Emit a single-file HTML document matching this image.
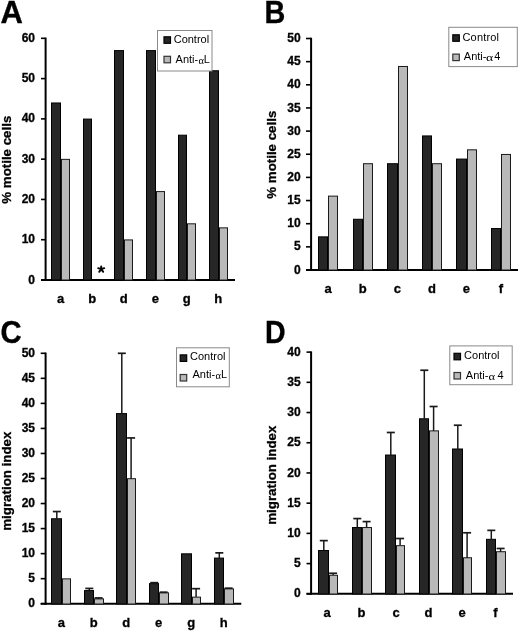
<!DOCTYPE html>
<html><head><meta charset="utf-8"><style>
html,body{margin:0;padding:0;background:#fff;}
body{width:520px;height:632px;overflow:hidden;}
svg{display:block;will-change:transform;}
text{font-family:"Liberation Sans", sans-serif;fill:#000;}
.tl{font-size:12px;font-weight:bold;stroke:#000;stroke-width:0.3px;}
.cl{font-size:13px;font-weight:bold;stroke:#000;stroke-width:0.3px;}
.yt{font-size:13.3px;font-weight:bold;stroke:#000;stroke-width:0.3px;}
.pl{font-size:31px;font-weight:bold;stroke:#000;stroke-width:0.35px;}
.lg{font-size:11px;}
.alp{font-family:"Liberation Serif", serif;}
.ast{font-size:17px;font-weight:bold;}
</style></head><body>
<svg width="520" height="632" viewBox="0 0 520 632">
<rect width="520" height="632" fill="#fff"/>
<line x1="45.6" y1="37.57" x2="45.6" y2="281" stroke="#000" stroke-width="2"/>
<line x1="41" y1="280" x2="45.6" y2="280" stroke="#000" stroke-width="1.6"/>
<text x="35" y="283.6" text-anchor="end" class="tl">0</text>
<line x1="41" y1="239.72" x2="45.6" y2="239.72" stroke="#000" stroke-width="1.6"/>
<text x="35" y="243.32" text-anchor="end" class="tl">10</text>
<line x1="41" y1="199.44" x2="45.6" y2="199.44" stroke="#000" stroke-width="1.6"/>
<text x="35" y="203.04" text-anchor="end" class="tl">20</text>
<line x1="41" y1="159.16" x2="45.6" y2="159.16" stroke="#000" stroke-width="1.6"/>
<text x="35" y="162.76" text-anchor="end" class="tl">30</text>
<line x1="41" y1="118.88" x2="45.6" y2="118.88" stroke="#000" stroke-width="1.6"/>
<text x="35" y="122.48" text-anchor="end" class="tl">40</text>
<line x1="41" y1="78.6" x2="45.6" y2="78.6" stroke="#000" stroke-width="1.6"/>
<text x="35" y="82.2" text-anchor="end" class="tl">50</text>
<line x1="41" y1="38.32" x2="45.6" y2="38.32" stroke="#000" stroke-width="1.6"/>
<text x="35" y="41.92" text-anchor="end" class="tl">60</text>
<line x1="41" y1="280" x2="235" y2="280" stroke="#000" stroke-width="2"/>
<rect x="51.5" y="102.97" width="9" height="177.03" fill="#262626" stroke="#000" stroke-width="1"/>
<rect x="61.5" y="159.36" width="8" height="120.64" fill="#b9b9b9" stroke="#1a1a1a" stroke-width="1"/>
<text x="60.6" y="303.3" text-anchor="middle" class="cl">a</text>
<rect x="83.5" y="119.08" width="8" height="160.92" fill="#262626" stroke="#000" stroke-width="1"/>
<text x="92.15" y="303.3" text-anchor="middle" class="cl">b</text>
<rect x="114.5" y="50.6" width="9" height="229.4" fill="#262626" stroke="#000" stroke-width="1"/>
<rect x="124.5" y="239.92" width="8" height="40.08" fill="#b9b9b9" stroke="#1a1a1a" stroke-width="1"/>
<text x="123.7" y="303.3" text-anchor="middle" class="cl">d</text>
<rect x="146.5" y="50.6" width="9" height="229.4" fill="#262626" stroke="#000" stroke-width="1"/>
<rect x="156.5" y="191.58" width="8" height="88.42" fill="#b9b9b9" stroke="#1a1a1a" stroke-width="1"/>
<text x="155.25" y="303.3" text-anchor="middle" class="cl">e</text>
<rect x="178.5" y="135.19" width="8" height="144.81" fill="#262626" stroke="#000" stroke-width="1"/>
<rect x="187.5" y="223.81" width="8" height="56.19" fill="#b9b9b9" stroke="#1a1a1a" stroke-width="1"/>
<text x="186.8" y="303.3" text-anchor="middle" class="cl">g</text>
<rect x="209.5" y="70.74" width="9" height="209.26" fill="#262626" stroke="#000" stroke-width="1"/>
<rect x="219.5" y="227.84" width="8" height="52.16" fill="#b9b9b9" stroke="#1a1a1a" stroke-width="1"/>
<text x="218.35" y="303.3" text-anchor="middle" class="cl">h</text>
<text transform="translate(10.7,159.7) rotate(-90)" text-anchor="middle" class="yt">% motile cells</text>
<text transform="translate(0.4,22.9) scale(1,1)" class="pl" style="font-size:31px">A</text>
<rect x="157.5" y="30.5" width="54.5" height="40.5" fill="#fff" stroke="#8a8a8a" stroke-width="1"/>
<rect x="164" y="36.8" width="6.5" height="6.5" fill="#262626" stroke="#000" stroke-width="1.2"/>
<rect x="164" y="56.3" width="6.5" height="6.5" fill="#b9b9b9" stroke="#333" stroke-width="1.2"/>
<text x="173.7" y="42.8" class="lg" style="letter-spacing:0px">Control</text>
<text x="175.6" y="63" class="lg">Anti-</text>
<text transform="translate(198.6,64.3) scale(1.1,1)" style="font-size:9.5px" class="alp">&#945;</text>
<text x="203.8" y="63" class="lg">L</text>
<line x1="311.1" y1="37.75" x2="311.1" y2="271" stroke="#000" stroke-width="2"/>
<line x1="306" y1="270" x2="311.1" y2="270" stroke="#000" stroke-width="1.6"/>
<text x="300.7" y="273.6" text-anchor="end" class="tl">0</text>
<line x1="306" y1="246.85" x2="311.1" y2="246.85" stroke="#000" stroke-width="1.6"/>
<text x="300.7" y="250.45" text-anchor="end" class="tl">5</text>
<line x1="306" y1="223.7" x2="311.1" y2="223.7" stroke="#000" stroke-width="1.6"/>
<text x="300.7" y="227.3" text-anchor="end" class="tl">10</text>
<line x1="306" y1="200.55" x2="311.1" y2="200.55" stroke="#000" stroke-width="1.6"/>
<text x="300.7" y="204.15" text-anchor="end" class="tl">15</text>
<line x1="306" y1="177.4" x2="311.1" y2="177.4" stroke="#000" stroke-width="1.6"/>
<text x="300.7" y="181" text-anchor="end" class="tl">20</text>
<line x1="306" y1="154.25" x2="311.1" y2="154.25" stroke="#000" stroke-width="1.6"/>
<text x="300.7" y="157.85" text-anchor="end" class="tl">25</text>
<line x1="306" y1="131.1" x2="311.1" y2="131.1" stroke="#000" stroke-width="1.6"/>
<text x="300.7" y="134.7" text-anchor="end" class="tl">30</text>
<line x1="306" y1="107.95" x2="311.1" y2="107.95" stroke="#000" stroke-width="1.6"/>
<text x="300.7" y="111.55" text-anchor="end" class="tl">35</text>
<line x1="306" y1="84.8" x2="311.1" y2="84.8" stroke="#000" stroke-width="1.6"/>
<text x="300.7" y="88.4" text-anchor="end" class="tl">40</text>
<line x1="306" y1="61.65" x2="311.1" y2="61.65" stroke="#000" stroke-width="1.6"/>
<text x="300.7" y="65.25" text-anchor="end" class="tl">45</text>
<line x1="306" y1="38.5" x2="311.1" y2="38.5" stroke="#000" stroke-width="1.6"/>
<text x="300.7" y="42.1" text-anchor="end" class="tl">50</text>
<line x1="306" y1="270" x2="518" y2="270" stroke="#000" stroke-width="2"/>
<rect x="318.5" y="236.86" width="9" height="33.14" fill="#262626" stroke="#000" stroke-width="1"/>
<rect x="328.5" y="196.12" width="9" height="73.88" fill="#b9b9b9" stroke="#1a1a1a" stroke-width="1"/>
<text x="328.2" y="292.7" text-anchor="middle" class="cl">a</text>
<rect x="353.5" y="219.27" width="9" height="50.73" fill="#262626" stroke="#000" stroke-width="1"/>
<rect x="363.5" y="163.71" width="9" height="106.29" fill="#b9b9b9" stroke="#1a1a1a" stroke-width="1"/>
<text x="362.76" y="292.7" text-anchor="middle" class="cl">b</text>
<rect x="387.5" y="163.71" width="10" height="106.29" fill="#262626" stroke="#000" stroke-width="1"/>
<rect x="398.5" y="66.48" width="9" height="203.52" fill="#b9b9b9" stroke="#1a1a1a" stroke-width="1"/>
<text x="397.32" y="292.7" text-anchor="middle" class="cl">c</text>
<rect x="422.5" y="135.93" width="9" height="134.07" fill="#262626" stroke="#000" stroke-width="1"/>
<rect x="432.5" y="163.71" width="9" height="106.29" fill="#b9b9b9" stroke="#1a1a1a" stroke-width="1"/>
<text x="431.88" y="292.7" text-anchor="middle" class="cl">d</text>
<rect x="456.5" y="159.08" width="10" height="110.92" fill="#262626" stroke="#000" stroke-width="1"/>
<rect x="467.5" y="149.82" width="9" height="120.18" fill="#b9b9b9" stroke="#1a1a1a" stroke-width="1"/>
<text x="466.44" y="292.7" text-anchor="middle" class="cl">e</text>
<rect x="491.5" y="228.53" width="9" height="41.47" fill="#262626" stroke="#000" stroke-width="1"/>
<rect x="501.5" y="154.45" width="9" height="115.55" fill="#b9b9b9" stroke="#1a1a1a" stroke-width="1"/>
<text x="501" y="292.7" text-anchor="middle" class="cl">f</text>
<text transform="translate(276.1,154.7) rotate(-90)" text-anchor="middle" class="yt">% motile cells</text>
<text transform="translate(264.4,22.9) scale(0.96,1.04)" class="pl" style="font-size:30px">B</text>
<rect x="448.8" y="27.3" width="68.5" height="39.3" fill="#fff" stroke="#8a8a8a" stroke-width="1"/>
<rect x="452.8" y="34.8" width="6.5" height="6.5" fill="#262626" stroke="#000" stroke-width="1.2"/>
<rect x="452.8" y="54.1" width="6.5" height="6.5" fill="#b9b9b9" stroke="#333" stroke-width="1.2"/>
<text x="462.5" y="40.8" class="lg" style="letter-spacing:0.16px">Control</text>
<text x="463.8" y="59.9" class="lg">Anti-</text>
<text transform="translate(486,60.9) scale(1.25,1)" style="font-size:11px" class="alp">&#945;</text>
<text x="494.3" y="59.9" class="lg">4</text>
<line x1="45.6" y1="352.55" x2="45.6" y2="604.7" stroke="#000" stroke-width="2"/>
<line x1="40.7" y1="603.7" x2="45.6" y2="603.7" stroke="#000" stroke-width="1.6"/>
<text x="35" y="607.3" text-anchor="end" class="tl">0</text>
<line x1="40.7" y1="578.66" x2="45.6" y2="578.66" stroke="#000" stroke-width="1.6"/>
<text x="35" y="582.26" text-anchor="end" class="tl">5</text>
<line x1="40.7" y1="553.62" x2="45.6" y2="553.62" stroke="#000" stroke-width="1.6"/>
<text x="35" y="557.22" text-anchor="end" class="tl">10</text>
<line x1="40.7" y1="528.58" x2="45.6" y2="528.58" stroke="#000" stroke-width="1.6"/>
<text x="35" y="532.18" text-anchor="end" class="tl">15</text>
<line x1="40.7" y1="503.54" x2="45.6" y2="503.54" stroke="#000" stroke-width="1.6"/>
<text x="35" y="507.14" text-anchor="end" class="tl">20</text>
<line x1="40.7" y1="478.5" x2="45.6" y2="478.5" stroke="#000" stroke-width="1.6"/>
<text x="35" y="482.1" text-anchor="end" class="tl">25</text>
<line x1="40.7" y1="453.46" x2="45.6" y2="453.46" stroke="#000" stroke-width="1.6"/>
<text x="35" y="457.06" text-anchor="end" class="tl">30</text>
<line x1="40.7" y1="428.42" x2="45.6" y2="428.42" stroke="#000" stroke-width="1.6"/>
<text x="35" y="432.02" text-anchor="end" class="tl">35</text>
<line x1="40.7" y1="403.38" x2="45.6" y2="403.38" stroke="#000" stroke-width="1.6"/>
<text x="35" y="406.98" text-anchor="end" class="tl">40</text>
<line x1="40.7" y1="378.34" x2="45.6" y2="378.34" stroke="#000" stroke-width="1.6"/>
<text x="35" y="381.94" text-anchor="end" class="tl">45</text>
<line x1="40.7" y1="353.3" x2="45.6" y2="353.3" stroke="#000" stroke-width="1.6"/>
<text x="35" y="356.9" text-anchor="end" class="tl">50</text>
<line x1="40.7" y1="603.7" x2="241.3" y2="603.7" stroke="#000" stroke-width="2"/>
<rect x="51.5" y="518.76" width="10" height="85.24" fill="#262626" stroke="#000" stroke-width="1"/>
<rect x="62.5" y="578.86" width="8" height="25.14" fill="#b9b9b9" stroke="#1a1a1a" stroke-width="1"/>
<line x1="56.8" y1="511.55" x2="56.8" y2="519" stroke="#1a1a1a" stroke-width="1.5"/>
<line x1="52.8" y1="511.55" x2="60.8" y2="511.55" stroke="#1a1a1a" stroke-width="1.7"/>
<text x="61.3" y="627" text-anchor="middle" class="cl">a</text>
<rect x="84.5" y="590.58" width="9" height="13.42" fill="#262626" stroke="#000" stroke-width="1"/>
<rect x="94.5" y="598.89" width="9" height="5.11" fill="#b9b9b9" stroke="#1a1a1a" stroke-width="1"/>
<line x1="89.3" y1="588.43" x2="89.3" y2="590" stroke="#1a1a1a" stroke-width="1.5"/>
<line x1="85.3" y1="588.43" x2="93.3" y2="588.43" stroke="#1a1a1a" stroke-width="1.7"/>
<line x1="98.6" y1="597.94" x2="98.6" y2="599" stroke="#1a1a1a" stroke-width="1.5"/>
<line x1="94.6" y1="597.94" x2="102.6" y2="597.94" stroke="#1a1a1a" stroke-width="1.7"/>
<text x="93.77" y="627" text-anchor="middle" class="cl">b</text>
<rect x="116.5" y="413.6" width="10" height="190.4" fill="#262626" stroke="#000" stroke-width="1"/>
<rect x="127.5" y="478.7" width="8" height="125.3" fill="#b9b9b9" stroke="#1a1a1a" stroke-width="1"/>
<line x1="121.8" y1="353.3" x2="121.8" y2="413" stroke="#1a1a1a" stroke-width="1.5"/>
<line x1="117.8" y1="353.3" x2="125.8" y2="353.3" stroke="#1a1a1a" stroke-width="1.7"/>
<line x1="131.1" y1="437.94" x2="131.1" y2="479" stroke="#1a1a1a" stroke-width="1.5"/>
<line x1="127.1" y1="437.94" x2="135.1" y2="437.94" stroke="#1a1a1a" stroke-width="1.7"/>
<text x="126.24" y="627" text-anchor="middle" class="cl">d</text>
<rect x="149.5" y="583.62" width="9" height="20.38" fill="#262626" stroke="#000" stroke-width="1"/>
<rect x="159.5" y="592.88" width="9" height="11.12" fill="#b9b9b9" stroke="#1a1a1a" stroke-width="1"/>
<line x1="154.3" y1="582.67" x2="154.3" y2="583" stroke="#1a1a1a" stroke-width="1.5"/>
<line x1="150.3" y1="582.67" x2="158.3" y2="582.67" stroke="#1a1a1a" stroke-width="1.7"/>
<line x1="163.6" y1="592.18" x2="163.6" y2="593" stroke="#1a1a1a" stroke-width="1.5"/>
<line x1="159.6" y1="592.18" x2="167.6" y2="592.18" stroke="#1a1a1a" stroke-width="1.7"/>
<text x="158.71" y="627" text-anchor="middle" class="cl">e</text>
<rect x="181.5" y="553.82" width="10" height="50.18" fill="#262626" stroke="#000" stroke-width="1"/>
<rect x="192.5" y="597.14" width="8" height="6.86" fill="#b9b9b9" stroke="#1a1a1a" stroke-width="1"/>
<line x1="196.1" y1="588.68" x2="196.1" y2="597" stroke="#1a1a1a" stroke-width="1.5"/>
<line x1="192.1" y1="588.68" x2="200.1" y2="588.68" stroke="#1a1a1a" stroke-width="1.7"/>
<text x="191.18" y="627" text-anchor="middle" class="cl">g</text>
<rect x="214.5" y="558.08" width="9" height="45.92" fill="#262626" stroke="#000" stroke-width="1"/>
<rect x="224.5" y="588.88" width="9" height="15.12" fill="#b9b9b9" stroke="#1a1a1a" stroke-width="1"/>
<line x1="219.3" y1="552.87" x2="219.3" y2="558" stroke="#1a1a1a" stroke-width="1.5"/>
<line x1="215.3" y1="552.87" x2="223.3" y2="552.87" stroke="#1a1a1a" stroke-width="1.7"/>
<line x1="228.6" y1="588.18" x2="228.6" y2="589" stroke="#1a1a1a" stroke-width="1.5"/>
<line x1="224.6" y1="588.18" x2="232.6" y2="588.18" stroke="#1a1a1a" stroke-width="1.7"/>
<text x="223.65" y="627" text-anchor="middle" class="cl">h</text>
<text transform="translate(11,481.2) rotate(-90)" text-anchor="middle" class="yt">migration index</text>
<text transform="translate(0.5,342.9) scale(0.96,1.0)" class="pl" style="font-size:30.5px">C</text>
<rect x="176.5" y="347.8" width="52.8" height="39" fill="#fff" stroke="#8a8a8a" stroke-width="1"/>
<rect x="180.2" y="354.9" width="6.5" height="6.5" fill="#262626" stroke="#000" stroke-width="1.2"/>
<rect x="180.2" y="374.5" width="6.5" height="6.5" fill="#b9b9b9" stroke="#333" stroke-width="1.2"/>
<text x="190" y="359.8" class="lg" style="letter-spacing:0px">Control</text>
<text x="192.5" y="378" class="lg">Anti-</text>
<text transform="translate(215.6,379) scale(1.1,1)" style="font-size:9.5px" class="alp">&#945;</text>
<text x="220.9" y="378" class="lg">L</text>
<line x1="311.1" y1="351.37" x2="311.1" y2="594.8" stroke="#000" stroke-width="2"/>
<line x1="306.5" y1="593.8" x2="311.1" y2="593.8" stroke="#000" stroke-width="1.6"/>
<text x="300.7" y="597.4" text-anchor="end" class="tl">0</text>
<line x1="306.5" y1="563.59" x2="311.1" y2="563.59" stroke="#000" stroke-width="1.6"/>
<text x="300.7" y="567.19" text-anchor="end" class="tl">5</text>
<line x1="306.5" y1="533.38" x2="311.1" y2="533.38" stroke="#000" stroke-width="1.6"/>
<text x="300.7" y="536.98" text-anchor="end" class="tl">10</text>
<line x1="306.5" y1="503.17" x2="311.1" y2="503.17" stroke="#000" stroke-width="1.6"/>
<text x="300.7" y="506.77" text-anchor="end" class="tl">15</text>
<line x1="306.5" y1="472.96" x2="311.1" y2="472.96" stroke="#000" stroke-width="1.6"/>
<text x="300.7" y="476.56" text-anchor="end" class="tl">20</text>
<line x1="306.5" y1="442.75" x2="311.1" y2="442.75" stroke="#000" stroke-width="1.6"/>
<text x="300.7" y="446.35" text-anchor="end" class="tl">25</text>
<line x1="306.5" y1="412.54" x2="311.1" y2="412.54" stroke="#000" stroke-width="1.6"/>
<text x="300.7" y="416.14" text-anchor="end" class="tl">30</text>
<line x1="306.5" y1="382.33" x2="311.1" y2="382.33" stroke="#000" stroke-width="1.6"/>
<text x="300.7" y="385.93" text-anchor="end" class="tl">35</text>
<line x1="306.5" y1="352.12" x2="311.1" y2="352.12" stroke="#000" stroke-width="1.6"/>
<text x="300.7" y="355.72" text-anchor="end" class="tl">40</text>
<line x1="306.5" y1="593.8" x2="513" y2="593.8" stroke="#000" stroke-width="2"/>
<rect x="318.5" y="550.5" width="10" height="43.5" fill="#262626" stroke="#000" stroke-width="1"/>
<rect x="329.5" y="575.27" width="8" height="18.73" fill="#b9b9b9" stroke="#1a1a1a" stroke-width="1"/>
<line x1="323.8" y1="540.63" x2="323.8" y2="550" stroke="#1a1a1a" stroke-width="1.5"/>
<line x1="319.8" y1="540.63" x2="327.8" y2="540.63" stroke="#1a1a1a" stroke-width="1.7"/>
<line x1="333.1" y1="573.26" x2="333.1" y2="575" stroke="#1a1a1a" stroke-width="1.5"/>
<line x1="329.1" y1="573.26" x2="337.1" y2="573.26" stroke="#1a1a1a" stroke-width="1.7"/>
<text x="327.2" y="617.3" text-anchor="middle" class="cl">a</text>
<rect x="352.5" y="527.54" width="9" height="66.46" fill="#262626" stroke="#000" stroke-width="1"/>
<rect x="362.5" y="527.54" width="9" height="66.46" fill="#b9b9b9" stroke="#1a1a1a" stroke-width="1"/>
<line x1="357.3" y1="518.58" x2="357.3" y2="527" stroke="#1a1a1a" stroke-width="1.5"/>
<line x1="353.3" y1="518.58" x2="361.3" y2="518.58" stroke="#1a1a1a" stroke-width="1.7"/>
<line x1="366.6" y1="521.6" x2="366.6" y2="527" stroke="#1a1a1a" stroke-width="1.5"/>
<line x1="362.6" y1="521.6" x2="370.6" y2="521.6" stroke="#1a1a1a" stroke-width="1.7"/>
<text x="361.5" y="617.3" text-anchor="middle" class="cl">b</text>
<rect x="385.5" y="455.03" width="10" height="138.97" fill="#262626" stroke="#000" stroke-width="1"/>
<rect x="396.5" y="545.66" width="8" height="48.34" fill="#b9b9b9" stroke="#1a1a1a" stroke-width="1"/>
<line x1="390.8" y1="432.48" x2="390.8" y2="455" stroke="#1a1a1a" stroke-width="1.5"/>
<line x1="386.8" y1="432.48" x2="394.8" y2="432.48" stroke="#1a1a1a" stroke-width="1.7"/>
<line x1="400.1" y1="538.52" x2="400.1" y2="545" stroke="#1a1a1a" stroke-width="1.5"/>
<line x1="396.1" y1="538.52" x2="404.1" y2="538.52" stroke="#1a1a1a" stroke-width="1.7"/>
<text x="396" y="617.3" text-anchor="middle" class="cl">c</text>
<rect x="419.5" y="418.78" width="9" height="175.22" fill="#262626" stroke="#000" stroke-width="1"/>
<rect x="429.5" y="430.87" width="9" height="163.13" fill="#b9b9b9" stroke="#1a1a1a" stroke-width="1"/>
<line x1="424.3" y1="370.25" x2="424.3" y2="419" stroke="#1a1a1a" stroke-width="1.5"/>
<line x1="420.3" y1="370.25" x2="428.3" y2="370.25" stroke="#1a1a1a" stroke-width="1.7"/>
<line x1="433.6" y1="406.5" x2="433.6" y2="431" stroke="#1a1a1a" stroke-width="1.5"/>
<line x1="429.6" y1="406.5" x2="437.6" y2="406.5" stroke="#1a1a1a" stroke-width="1.7"/>
<text x="428.5" y="617.3" text-anchor="middle" class="cl">d</text>
<rect x="452.5" y="448.99" width="10" height="145.01" fill="#262626" stroke="#000" stroke-width="1"/>
<rect x="463.5" y="557.75" width="8" height="36.25" fill="#b9b9b9" stroke="#1a1a1a" stroke-width="1"/>
<line x1="457.8" y1="425.23" x2="457.8" y2="449" stroke="#1a1a1a" stroke-width="1.5"/>
<line x1="453.8" y1="425.23" x2="461.8" y2="425.23" stroke="#1a1a1a" stroke-width="1.7"/>
<line x1="467.1" y1="532.78" x2="467.1" y2="558" stroke="#1a1a1a" stroke-width="1.5"/>
<line x1="463.1" y1="532.78" x2="471.1" y2="532.78" stroke="#1a1a1a" stroke-width="1.7"/>
<text x="462" y="617.3" text-anchor="middle" class="cl">e</text>
<rect x="486.5" y="539.32" width="9" height="54.68" fill="#262626" stroke="#000" stroke-width="1"/>
<rect x="496.5" y="551.71" width="9" height="42.29" fill="#b9b9b9" stroke="#1a1a1a" stroke-width="1"/>
<line x1="491.3" y1="530.36" x2="491.3" y2="539" stroke="#1a1a1a" stroke-width="1.5"/>
<line x1="487.3" y1="530.36" x2="495.3" y2="530.36" stroke="#1a1a1a" stroke-width="1.7"/>
<line x1="500.6" y1="548.48" x2="500.6" y2="552" stroke="#1a1a1a" stroke-width="1.5"/>
<line x1="496.6" y1="548.48" x2="504.6" y2="548.48" stroke="#1a1a1a" stroke-width="1.7"/>
<text x="495.5" y="617.3" text-anchor="middle" class="cl">f</text>
<text transform="translate(276.3,475.2) rotate(-90)" text-anchor="middle" class="yt">migration index</text>
<text transform="translate(265.1,342.6) scale(0.95,1.05)" class="pl" style="font-size:30px">D</text>
<rect x="449.8" y="345.9" width="62.4" height="38.8" fill="#fff" stroke="#8a8a8a" stroke-width="1"/>
<rect x="454" y="353.3" width="6.5" height="6.5" fill="#262626" stroke="#000" stroke-width="1.2"/>
<rect x="454" y="372.5" width="6.5" height="6.5" fill="#b9b9b9" stroke="#333" stroke-width="1.2"/>
<text x="464.1" y="359.2" class="lg" style="letter-spacing:0px">Control</text>
<text x="465.8" y="379.2" class="lg">Anti-</text>
<text transform="translate(488.4,380.4) scale(1.15,1)" style="font-size:11px" class="alp">&#945;</text>
<text x="497.4" y="379.2" class="lg">4</text>
<path d="M101.2 269.2 L101.2 266.4 M101.2 269.2 L98.2 268.2 M101.2 269.2 L104.2 268.2 M101.2 269.2 L99.2 271.8 M101.2 269.2 L103.2 271.8" stroke="#000" stroke-width="1.9" stroke-linecap="round" fill="none"/>
</svg>
</body></html>
